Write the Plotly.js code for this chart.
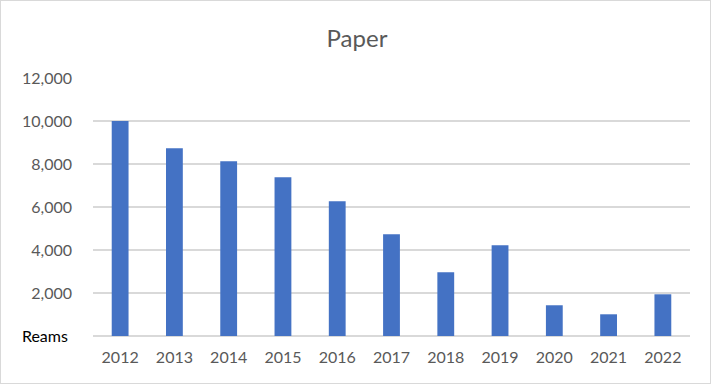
<!DOCTYPE html>
<html>
<head>
<meta charset="utf-8">
<script src="https://cdn.plot.ly/plotly-3.0.1.min.js"></script>
<style>
html,body{margin:0;padding:0;background:#fff;}
#wrap{position:relative;width:714px;height:385px;}
#chart{position:absolute;left:0;top:0;width:714px;height:385px;}
#frame{position:absolute;left:0;top:0;width:711px;height:384px;box-sizing:border-box;border:1px solid #D9D9D9;pointer-events:none;}
</style>
</head>
<body>
<div id="wrap"><div id="chart"></div><div id="frame"></div></div>
<script>
const years = ['2012','2013','2014','2015','2016','2017','2018','2019','2020','2021','2022'];
const reams = [10000, 8730, 8130, 7380, 6270, 4730, 2960, 4220, 1430, 1010, 1940];
const tickVals = [0, 2000, 4000, 6000, 8000, 10000, 12000];
const tickLabels = ['<span style="color:#000000">Reams\u00a0</span>', '2,000', '4,000', '6,000', '8,000', '10,000', '12,000'];

const font = 'Lato, "Open Sans", "Liberation Sans", sans-serif';

Plotly.newPlot('chart', [{
  type: 'bar',
  x: years,
  y: reams,
  marker: {color: '#4472C4'},
  width: 0.31,
  hoverinfo: 'x+y'
}], {
  width: 714,
  height: 385,
  margin: {l: 93, r: 24, t: 78, b: 49, pad: 0},
  paper_bgcolor: '#ffffff',
  plot_bgcolor: '#ffffff',
  showlegend: false,
  font: {family: font, color: '#595959', size: 16},
  title: {
    text: 'Paper',
    font: {family: font, size: 24, color: '#595959'},
    x: 0.5, xref: 'container', xanchor: 'center',
    y: 1 - 39/385, yref: 'container', yanchor: 'middle'
  },
  xaxis: {
    type: 'category',
    showgrid: false,
    zeroline: false,
    showline: false,
    ticks: '',
    tickfont: {family: font, size: 16, color: '#595959'},
    ticklabelstandoff: 10
  },
  yaxis: {
    range: [0, 12000],
    tickvals: tickVals,
    ticktext: tickLabels,
    showgrid: true,
    gridcolor: '#D9D9D9',
    gridwidth: 1.3,
    zeroline: true,
    zerolinecolor: '#D9D9D9',
    zerolinewidth: 1.3,
    showline: false,
    ticks: '',
    tickfont: {family: font, size: 16, color: '#595959'},
    ticklabelstandoff: 20
  }
}, {displayModeBar: false, staticPlot: true});
</script>
</body>
</html>
